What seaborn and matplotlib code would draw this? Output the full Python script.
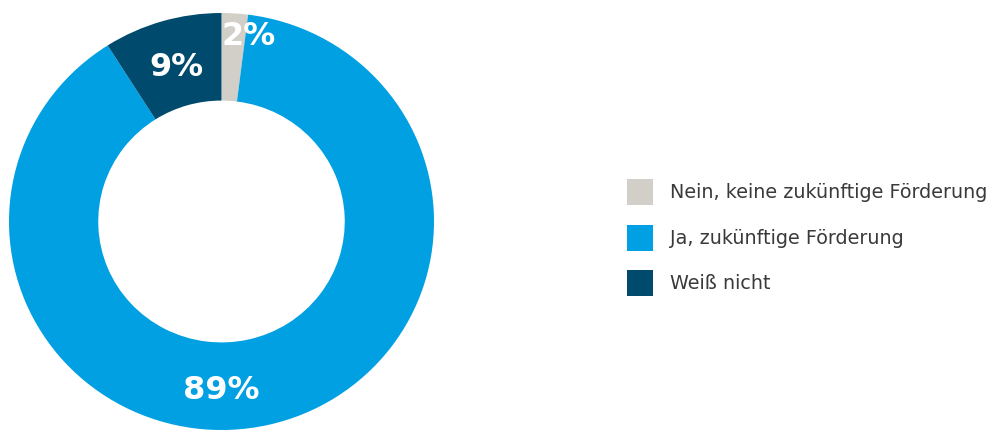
import matplotlib
matplotlib.use("Agg")
import matplotlib.pyplot as plt
import seaborn as sns

# Survey answers, in the order they are drawn (clockwise from 12 o'clock)
categories = ["Nein, keine zukünftige Förderung", "Ja, zukünftige Förderung", "Weiß nicht"]
shares = [2, 89, 9]
colors = ["#d1cfc7", "#00a0e2", "#004b6d"]

sns.set_theme(style="white")
plt.rcParams["font.family"] = ["DejaVu Sans"]

W, H = 995, 432
fig = plt.figure(figsize=(W / 100, H / 100), dpi=100)
fig.patch.set_facecolor("white")

# donut axes placed in pixel terms
left, right, top, bottom = 9, 434, 13, 430
ax = fig.add_axes([left / W, (H - bottom) / H, (right - left) / W, (bottom - top) / H])
wedges, _ = ax.pie(
    shares,
    colors=colors,
    startangle=90,
    counterclock=False,
    radius=1.0,
    wedgeprops=dict(width=0.42, linewidth=0, edgecolor="none"),
)
ax.set_xlim(-1, 1)
ax.set_ylim(-1, 1)
ax.set_aspect("auto")
ax.axis("off")

# value labels (baseline positions inside the ring)
label_pos = [(0.13, 0.845), (0.0, -0.85), (-0.21, 0.698)]
for v, (x, y) in zip(shares, label_pos):
    ax.text(x, y, f"{v}%", color="white", fontsize=23, fontweight="bold",
            ha="center", va="baseline")

fs = 13.8
leg = fig.legend(
    wedges, categories,
    loc="upper left",
    bbox_to_anchor=(627 / W, (H - 179) / H),
    frameon=False,
    fontsize=fs,
    handlelength=1.356,
    handleheight=1.71,
    handletextpad=0.89,
    labelspacing=1.02,
    borderpad=0,
    borderaxespad=0,
)
for t in leg.get_texts():
    t.set_color("#3a3a3a")

fig.savefig("out.png", dpi=100, facecolor="white")
